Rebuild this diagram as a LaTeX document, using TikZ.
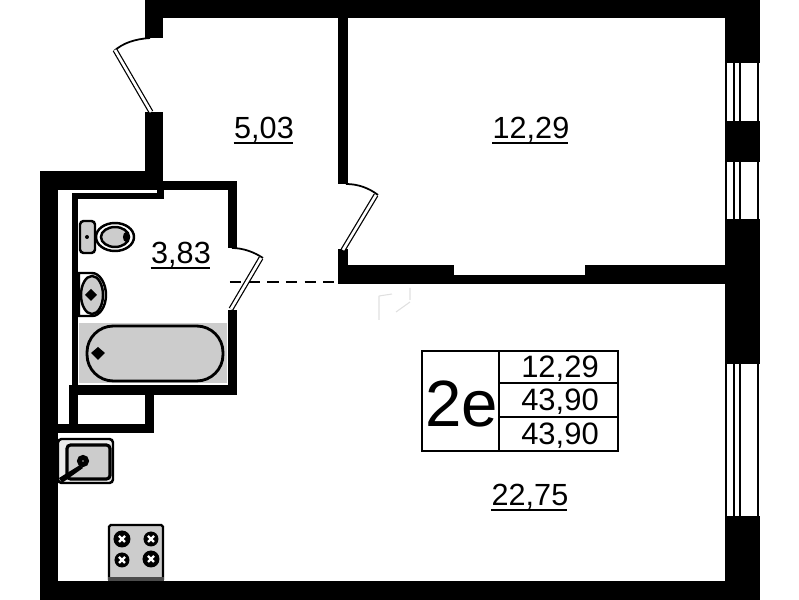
\documentclass[tikz,border=0pt]{standalone}
\usepackage{fontspec}
\setmainfont{Liberation Sans}
\tikzset{
  wall/.style={fill=black},
  doorleaf/.style={line width=0.35pt, double=white, double distance=0.75pt},
  doorswing/.style={line width=0.5pt},
  windowline/.style={line width=0.3pt},
  fixture/.style={draw=black, fill=black!20, line width=0.7pt},
  arealabel/.style={font=\fontsize{8.7}{10}\selectfont, inner sep=0pt, text depth=1.5pt},
  arealine/.style={line width=0.4pt},
  tablecell/.style={font=\fontsize{8.8}{10}\selectfont, inner sep=0pt}
}
\begin{document}
\begin{tikzpicture}[x=0.01cm, y=-0.01cm]
        \useasboundingbox (0,0) rectangle (799,600);
        % Outer walls
        \fill[wall] (145,0) rectangle (760,18);
        \fill[wall] (145,0) rectangle (163,38);
        \fill[wall] (725,0) rectangle (760,63);
        \fill[wall] (725,121) rectangle (760,162);
        \fill[wall] (725,219) rectangle (760,364);
        \fill[wall] (725,516) rectangle (760,600);
        \fill[wall] (40,581) rectangle (760,600);
        \fill[wall] (40,171) rectangle (58,600);
        \fill[wall] (40,171) rectangle (163,190);
        \fill[wall] (145,112) rectangle (163,190);

        % Inner walls
        \fill[wall] (338,18) rectangle (348,184);
        \fill[wall] (338,249) rectangle (348,284);
        \fill[wall] (338,265) rectangle (454,284);
        \fill[wall] (454,275) rectangle (585,284);
        \fill[wall] (585,265) rectangle (725,284);

        % Bathroom walls
        \fill[wall] (157,181) rectangle (237,190);
        \fill[wall] (157,190) rectangle (164,199);
        \fill[wall] (72,193) rectangle (164,199);
        \fill[wall] (72,193) rectangle (78,385);
        \fill[wall] (228,181) rectangle (237,248);
        \fill[wall] (228,310) rectangle (237,395);
        \fill[wall] (69,385) rectangle (237,395);
        \fill[wall] (69,385) rectangle (78,430);
        \fill[wall] (145,395) rectangle (154,433);
        \fill[wall] (58,424) rectangle (154,433);

        % Doors
        \draw[doorswing] (150,38) .. controls (135,39) and (123,43) .. (114,51);
        \draw[doorleaf] (115,50) -- (151,112);
        \draw[doorswing] (346,184) .. controls (358,184) and (369,188) .. (378,195);
        \draw[doorleaf] (376,195) -- (343,250);
        \draw[doorswing] (232,248) .. controls (243,248) and (254,252) .. (263,258);
        \draw[doorleaf] (261,258) -- (231,309);
        \draw[line width=0.4pt, dash pattern=on 3.2pt off 2.1pt] (230,282) -- (338,282);

        % Faint mark under the wall
        \draw[black!12, line width=0.3pt] (379,296) -- (379,320) (379,296) -- (392,294);
        \draw[black!12, line width=0.3pt] (396,312) -- (410,302) (410,288) -- (410,300);

        % Windows
        \foreach \ytop/\ybot in {63/121, 162/219, 364/516} {
          \draw[windowline] (726,\ytop) -- (726,\ybot);
          \draw[windowline] (734,\ytop) -- (734,\ybot);
          \draw[windowline] (740,\ytop) -- (740,\ybot);
          \draw[windowline] (758,\ytop) -- (758,\ybot);
        }

        % Toilet
        \draw[fixture, fill=white] (115,237) ellipse (19 and 14);
        \draw[fixture] (115,237) ellipse (14 and 10);
        \fill (126,237) ellipse (3 and 5);
        \draw[fixture, rounded corners=1pt] (80,221) rectangle (95,253);
        \fill (87,237) circle (2);

        % Basin
        \draw[fixture, fill=white] (79,273) -- (92,273) .. controls (100,273) and (106,284) .. (106,295) .. controls (106,306) and (100,316) .. (92,316) -- (79,316) -- cycle;
        \draw[fixture] (92,295) ellipse (11 and 19);
        \fill (91,289) -- (97,295) -- (91,301) -- (85,295) -- cycle;

        % Bath
        \fill[black!20] (79,323) rectangle (227,383);
        \draw[fixture, line width=0.8pt, rounded corners=7.5pt] (87,326) rectangle (223,381);
        \fill (98,347) -- (105,353) -- (98,360) -- (91,353) -- cycle;

        % Kitchen sink
        \draw[fixture, fill=black!8, rounded corners=1pt] (58,439) rectangle (113,483);
        \draw[fixture, fill=black!20, line width=0.9pt, rounded corners=1pt] (67,445) rectangle (110,479);
        \draw[line width=1.4pt, fill=white] (83,461) circle (3.5);
        \fill (80,465) -- (83,468) -- (62,483) -- (59,478) -- cycle;

        % Stove
        \draw[fixture, fill=black!20, rounded corners=0.5pt] (109,525) rectangle (163,581);
        \fill[black!70] (108,577) rectangle (164,581);
        \foreach \bx/\by/\br in {122/539/8.5, 151/539/7.5, 122/560/7.5, 151/559/8.5} {
          \fill (\bx,\by) circle (\br);
          \draw[white, line width=0.7pt] (\bx-3,\by-3) -- (\bx+3,\by+3) (\bx-3,\by+3) -- (\bx+3,\by-3);
        }

        % Labels
        \node[arealabel] (hallarea) at (264,130) {5,03};
        \draw[arealine] (hallarea.south west) ++(0,-1) -- ++(59,0);
        \node[arealabel] (roomarea) at (531,130) {12,29};
        \draw[arealine] (roomarea.south west) ++(0,-1) -- ++(76,0);
        \node[arealabel] (batharea) at (181,255) {3,83};
        \draw[arealine] (batharea.south west) ++(0,-1) -- ++(59,0);
        \node[arealabel] (kitchenarea) at (530,497) {22,75};
        \draw[arealine] (kitchenarea.south west) ++(0,-1) -- ++(76,0);

        % Table
        \draw[line width=0.5pt] (422,351) rectangle (618,451);
        \draw[line width=0.5pt] (499,351) -- (499,451);
        \draw[line width=0.5pt] (499,383) -- (618,383);
        \draw[line width=0.5pt] (499,417) -- (618,417);
        \node[font=\fontsize{18.6}{22}\selectfont, inner sep=0pt] (flattype) at (462,404) {2e};
        \node[tablecell] (livingarea) at (560,369) {12,29};
        \node[tablecell] (totalarea) at (560,402) {43,90};
        \node[tablecell] (fullarea) at (560,436) {43,90};
    \end{tikzpicture}
\end{document}
